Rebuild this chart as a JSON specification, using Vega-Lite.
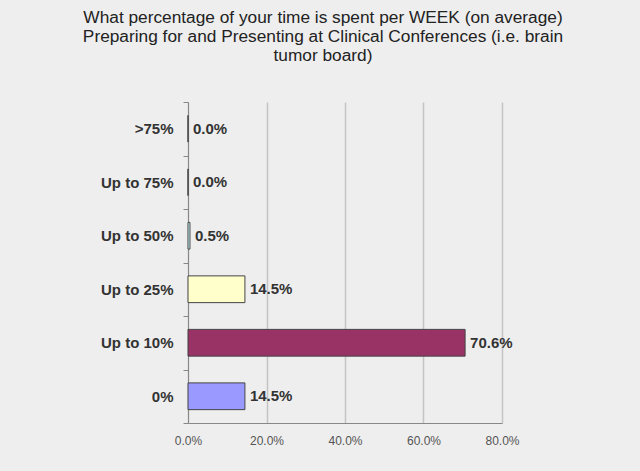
{
  "$schema": "https://vega.github.io/schema/vega-lite/v6.json",
  "width": 314,
  "height": 321,
  "autosize": "none",
  "padding": {"left": 188, "top": 102, "right": 138, "bottom": 48},
  "background": "#eeeeee",
  "title": {
    "text": ["What percentage of your time is spent per WEEK (on average)", "Preparing for and Presenting at Clinical Conferences (i.e. brain", "tumor board)"],
    "font": "Liberation Sans",
    "fontSize": 17.3,
    "fontWeight": "normal",
    "color": "#222222",
    "anchor": "middle",
    "dx": -22,
    "offset": 31,
    "lineHeight": 19
  },
  "data": {
    "values": [
      {"category": ">75%", "value": 0.0, "color": "#ccffff"},
      {"category": "Up to 75%", "value": 0.0, "color": "#ccffff"},
      {"category": "Up to 50%", "value": 0.005, "color": "#ccffff"},
      {"category": "Up to 25%", "value": 0.145, "color": "#ffffcc"},
      {"category": "Up to 10%", "value": 0.706, "color": "#993366"},
      {"category": "0%", "value": 0.145, "color": "#9999ff"}
    ]
  },
  "config": {"view": {"stroke": null}},
  "encoding": {
    "y": {
      "field": "category",
      "type": "nominal",
      "sort": null,
      "scale": {"paddingInner": 0, "paddingOuter": 0},
      "axis": {
        "title": null,
        "labelFont": "Liberation Sans",
        "labelFontSize": 15,
        "labelFontWeight": "bold",
        "labelColor": "#333333",
        "labelPadding": 10,
        "domainColor": "#888888",
        "tickColor": "#888888",
        "tickSize": 5,
        "ticks": true,
        "tickBand": "extent"
      }
    },
    "x": {
      "field": "value",
      "type": "quantitative",
      "scale": {"domain": [0, 0.8], "nice": false},
      "axis": {
        "title": null,
        "values": [0, 0.2, 0.4, 0.6, 0.8],
        "format": ".1%",
        "grid": true,
        "gridColor": "#c4c4c4",
        "gridWidth": 1.5,
        "ticks": false,
        "labelFlush": false,
        "domainColor": "#888888",
        "labelFont": "Liberation Sans",
        "labelFontSize": 12,
        "labelColor": "#555555",
        "labelPadding": 12
      }
    }
  },
  "layer": [
    {
      "mark": {"type": "bar", "stroke": "#444444", "strokeWidth": 1, "height": {"band": 0.5}},
      "encoding": {
        "color": {"field": "color", "type": "nominal", "scale": null}
      }
    },
    {
      "mark": {"type": "text", "align": "left", "dx": 5, "font": "Liberation Sans", "fontSize": 15, "fontWeight": "bold", "color": "#333333"},
      "encoding": {
        "text": {"field": "value", "type": "quantitative", "format": ".1%"}
      }
    }
  ]
}
